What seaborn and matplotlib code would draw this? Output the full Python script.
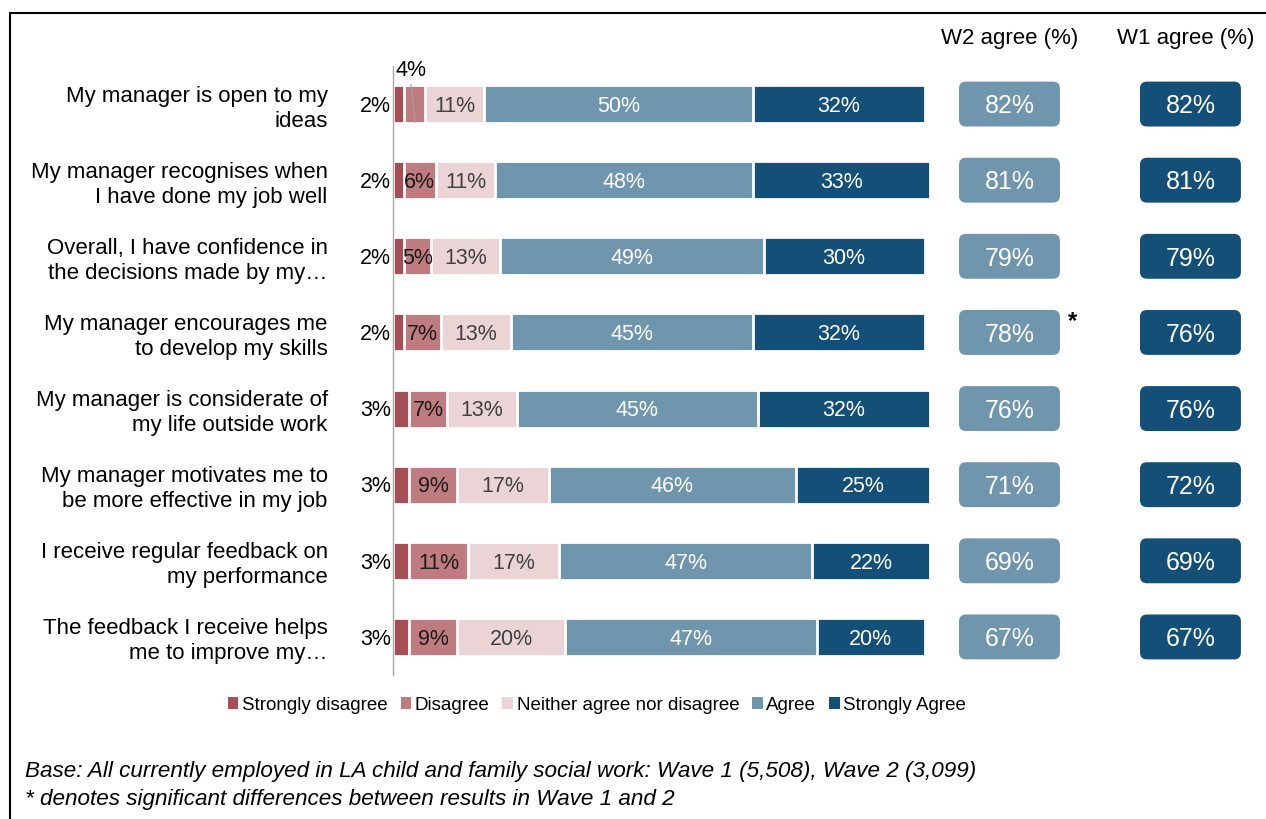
import numpy as np
import pandas as pd
import matplotlib.pyplot as plt
import seaborn as sns
from matplotlib.patches import FancyBboxPatch, Patch
from matplotlib.lines import Line2D

# data
statements = [
    "My manager is open to my\nideas",
    "My manager recognises when\nI have done my job well",
    "Overall, I have confidence in\nthe decisions made by my\u2026",
    "My manager encourages me\nto develop my skills",
    "My manager is considerate of\nmy life outside work",
    "My manager motivates me to\nbe more effective in my job",
    "I receive regular feedback on\nmy performance",
    "The feedback I receive helps\nme to improve my\u2026",
]
responses = ["Strongly disagree", "Disagree", "Neither agree nor disagree", "Agree", "Strongly Agree"]
strongly_disagree = [2, 2, 2, 2, 3, 3, 3, 3]
disagree = [4, 6, 5, 7, 7, 9, 11, 9]
neither = [11, 11, 13, 13, 13, 17, 17, 20]
agree = [50, 48, 49, 45, 45, 46, 47, 47]
strongly_agree = [32, 33, 30, 32, 32, 25, 22, 20]
w2_agree = [82, 81, 79, 78, 76, 71, 69, 67]
w1_agree = [82, 81, 79, 76, 76, 72, 69, 67]
significant = [False, False, False, True, False, False, False, False]

colors = ["#A54E55", "#BE7C80", "#EAD4D6", "#7096AE", "#134F76"]
label_colors = ["black", "#1a1a1a", "#404040", "white", "white"]
w2_color = "#7096AE"
w1_color = "#134F76"

sns.set_style("white")
plt.rcParams['font.family'] = ['Liberation Sans', 'DejaVu Sans']
plt.rcParams['text.color'] = 'black'
plt.rcParams['ytick.color'] = 'black'

fig = plt.figure(figsize=(12.66, 8.19), dpi=100)
W, H = 1266, 819
px_per_pct = 5.37
ax = fig.add_axes([393 / W, (H - 675) / H, (W - 393) / W, (675 - 66) / H])

df = pd.DataFrame({
    "statement": statements,
    responses[0]: strongly_disagree,
    responses[1]: disagree,
    responses[2]: neither,
    responses[3]: agree,
    responses[4]: strongly_agree,
})
cum = df[responses].cumsum(axis=1)

# stacked bars: draw cumulative totals from the longest down
for i in range(len(responses) - 1, -1, -1):
    sns.barplot(x=cum[responses[i]], y=df["statement"], orient="h", color=colors[i],
                width=0.5, edgecolor="white", linewidth=2, saturation=1, ax=ax)

dy = 0.03  # nudge digits to look vertically centred

# segment labels
for r in range(len(statements)):
    for i, resp in enumerate(responses):
        v = df.loc[r, resp]
        mid = cum.loc[r, resp] - v / 2
        if i == 0:
            ax.text(-0.35, r + dy, f"{v}%", ha="right", va="center", fontsize=15.5, color="black")
        elif i == 1 and r == 0:
            ax.text(3.4, -0.44, f"{v}%", ha="center", va="center", fontsize=15.5, color="black")
            ax.plot([3.35, 4.1], [-0.26, 0.24], color="#a0a0a0", lw=0.8, zorder=5)
        else:
            ax.text(mid, r + dy, f"{v}%", ha="center", va="center", fontsize=15.5, color=label_colors[i])

# agree summary boxes
box_w = 18.8
box_h = 0.59
aspect = px_per_pct / (609 / 8)
for r in range(len(statements)):
    for x0, val, col in [(105.4, w2_agree[r], w2_color), (139.1, w1_agree[r], w1_color)]:
        box = FancyBboxPatch((x0, r - box_h / 2), box_w, box_h,
                             boxstyle="round,pad=0,rounding_size=1.3",
                             mutation_aspect=aspect, facecolor=col, edgecolor="none")
        ax.add_patch(box)
        ax.text(x0 + box_w / 2, r + dy, f"{val}%", ha="center", va="center",
                fontsize=18, color="white")
    if significant[r]:
        ax.text(126.6, r - 0.15, "*", ha="center", va="center", fontsize=17,
                fontweight="bold", color="black")

ax.text(114.8, -0.86, "W2 agree (%)", ha="center", va="center", fontsize=16)
ax.text(147.6, -0.86, "W1 agree (%)", ha="center", va="center", fontsize=16)

ax.set_xlim(0, (W - 393) / px_per_pct)
ax.set_ylim(len(statements) - 0.5, -0.5)
ax.set_xlabel("")
ax.set_ylabel("")
ax.set_xticks([])
ax.set_yticks(range(len(statements)))
ax.set_yticklabels(statements, fontsize=16)
for lab in ax.get_yticklabels():
    lab.set_linespacing(1.25)
    lab.set_color("black")
ax.set_yticks(np.arange(-0.5, len(statements), 1), minor=True)
ax.tick_params(axis="y", which="major", length=0, pad=47)
ax.tick_params(axis="y", which="minor", length=3, width=1, color="#a0a0a0", direction="out")
for s in ["top", "right", "bottom"]:
    ax.spines[s].set_visible(False)
ax.spines["left"].set_color("#a8a8a8")
ax.spines["left"].set_linewidth(1)
ax.set_facecolor("none")

# legend
handles = [Patch(facecolor=c, edgecolor="none") for c in colors]
fig.legend(handles, responses, loc="center", bbox_to_anchor=(597 / W, 1 - 705 / H),
           ncol=5, frameon=False, fontsize=13.5, handlelength=0.55, handleheight=0.55,
           handletextpad=0.2, columnspacing=0.7)

# footnotes
fig.text(25 / W, 1 - 771 / H,
         "Base: All currently employed in LA child and family social work: Wave 1 (5,508), Wave 2 (3,099)",
         ha="left", va="center", fontsize=16.2, style="italic")
fig.text(25 / W, 1 - 800 / H, "* denotes significant differences between results in Wave 1 and 2",
         ha="left", va="center", fontsize=16.2, style="italic")

# outer frame (left and top edges visible)
fig.add_artist(Line2D([10 / W, 10 / W], [0, 1 - 13 / H], color="black", lw=1.5))
fig.add_artist(Line2D([10 / W, 1], [1 - 13 / H, 1 - 13 / H], color="black", lw=1.5))

fig.savefig("out.png", dpi=100)
